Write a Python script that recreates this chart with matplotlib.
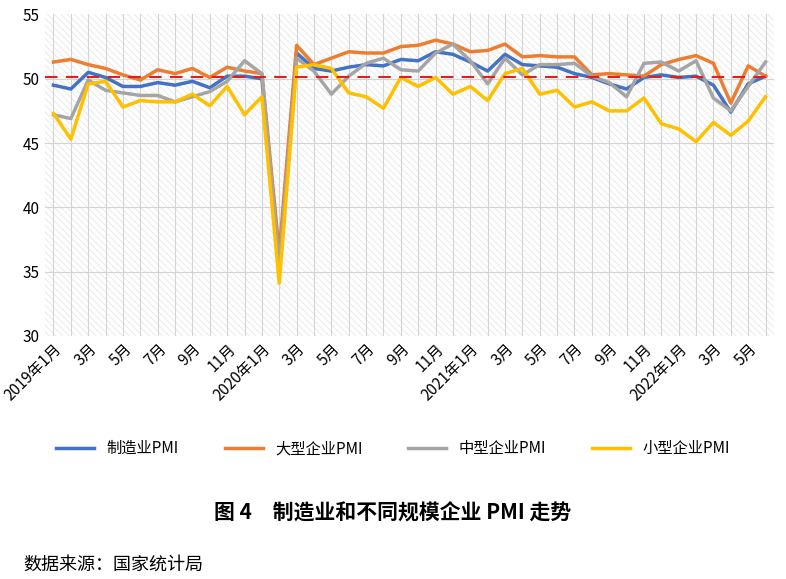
import matplotlib
matplotlib.use("Agg")
import matplotlib.pyplot as plt

plt.rcParams["font.family"] = ["Noto Sans CJK SC"]
plt.rcParams["hatch.color"] = "#e6e6e6"
plt.rcParams["hatch.linewidth"] = 0.6

months = []
for y in (2019, 2020, 2021, 2022):
    for m in range(1, 13):
        if y == 2022 and m > 6:
            break
        months.append(f"{y}年{m}月" if m == 1 else f"{m}月")

manufacturing = [49.5,49.2,50.5,50.1,49.4,49.4,49.7,49.5,49.8,49.3,50.2,50.2,
                 50.0,35.7,52.0,50.8,50.6,50.9,51.1,51.0,51.5,51.4,52.1,51.9,
                 51.3,50.6,51.9,51.1,51.0,50.9,50.4,50.1,49.6,49.2,50.1,50.3,
                 50.1,50.2,49.5,47.4,49.6,50.2]
large = [51.3,51.5,51.1,50.8,50.3,49.9,50.7,50.4,50.8,50.1,50.9,50.6,
         50.4,36.5,52.6,51.1,51.6,52.1,52.0,52.0,52.5,52.6,53.0,52.7,
         52.1,52.2,52.7,51.7,51.8,51.7,51.7,50.3,50.4,50.3,50.2,51.1,
         51.5,51.8,51.2,48.1,51.0,50.2]
medium = [47.2,46.9,49.9,49.1,48.9,48.7,48.7,48.2,48.6,49.0,49.8,51.4,
          50.4,35.5,51.6,50.6,48.8,50.2,51.2,51.6,50.7,50.6,52.0,52.7,
          51.4,49.6,51.6,50.3,51.1,51.1,51.2,50.2,49.7,48.6,51.2,51.3,
          50.6,51.4,48.5,47.5,49.4,51.3]
small = [47.3,45.3,49.6,49.8,47.8,48.3,48.2,48.2,48.8,47.9,49.4,47.2,
         48.6,34.1,50.9,51.1,50.8,48.9,48.6,47.7,50.1,49.4,50.1,48.8,
         49.4,48.3,50.4,50.8,48.8,49.1,47.8,48.2,47.5,47.5,48.5,46.5,
         46.1,45.1,46.6,45.6,46.7,48.6]
ref_line = 50.1

fig = plt.figure(figsize=(7.86, 5.79), dpi=100)
ax = fig.add_axes([0.057, 0.42, 0.928, 0.555])
x = list(range(len(months)))
ax.set_facecolor("white")
ax.add_patch(plt.Rectangle((0, 0), 1, 1, transform=ax.transAxes, facecolor="white",
                           hatch="\\\\\\\\\\", lw=0, zorder=0))
for xi in x:
    ax.axvline(xi, color="#d4d4d4", lw=0.8, zorder=1)
for yy in (35, 40, 45, 50):
    ax.axhline(yy, color="#d4d4d4", lw=0.8, zorder=1)

ax.plot(x, manufacturing, color="#4472c4", lw=2.5, label="制造业PMI", zorder=3)
ax.plot(x, large, color="#ed7d31", lw=2.5, label="大型企业PMI", zorder=3)
ax.plot(x, medium, color="#a5a5a5", lw=2.5, label="中型企业PMI", zorder=3)
ax.plot(x, small, color="#ffc000", lw=2.5, label="小型企业PMI", zorder=3)
ax.axhline(ref_line, color="#e02020", lw=1.5, ls=(0, (6, 4)), zorder=4)

ax.set_xlim(-0.5, len(months) - 0.5)
ax.set_ylim(30, 55)
ax.set_yticks([30, 35, 40, 45, 50, 55])
ax.set_xticks(x[::2])
ax.set_xticklabels(months[::2], rotation=45, ha="right", rotation_mode="anchor", fontsize=11)
ax.tick_params(axis="y", labelsize=11, length=0)
ax.tick_params(axis="x", length=0)
for s in ax.spines.values():
    s.set_visible(False)
ax.grid(False)

fig.legend(loc="center", bbox_to_anchor=(0.5, 0.225), ncol=4, frameon=False,
           fontsize=11, handlelength=2.5, columnspacing=3)
fig.text(0.5, 0.114, "图 4　制造业和不同规模企业 PMI 走势", ha="center", va="center",
         fontsize=15, fontweight="bold")
fig.text(0.03, 0.025, "数据来源：国家统计局", ha="left", va="center", fontsize=13)
fig.savefig("out.png", dpi=100)
